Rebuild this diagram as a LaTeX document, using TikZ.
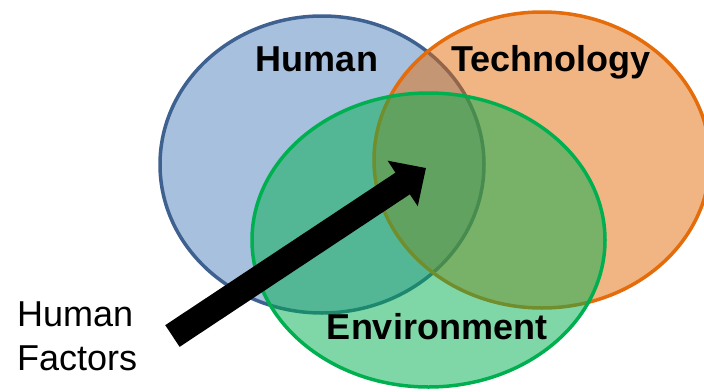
\documentclass[tikz,border=0pt]{standalone}
\usepackage{fontspec}
\setmainfont{Liberation Sans}
\usetikzlibrary{shapes.geometric,arrows.meta}

\definecolor{humanfill}{HTML}{4F81BD}
\definecolor{humanline}{HTML}{3E6190}
\definecolor{techorange}{HTML}{E46C0A}
\definecolor{envgreen}{HTML}{00B050}

\tikzset{
    venn/.style={ellipse, inner sep=0pt, line width=3.5pt, fill opacity=0.5},
    setname/.style={font=\fontsize{36}{44}\selectfont\bfseries, anchor=base, inner sep=0pt},
    bigarrow/.style={line width=26pt, -{Triangle[length=28pt, width=53pt]}}
}

\begin{document}
\begin{tikzpicture}[x=1pt, y=-1pt]

    \useasboundingbox (0,0) rectangle (704,391);

    % the three sets
    \node[venn, draw=humanline, fill=humanfill, minimum width=324, minimum height=297] (human) at (322,164.5) {};
    \node[venn, draw=techorange, fill=techorange, minimum width=336, minimum height=296] (tech) at (542,160) {};
    \node[venn, draw=envgreen, fill=envgreen, minimum width=353, minimum height=294] (env) at (428.5,240) {};

    \node[setname] (humanname) at (317,71) {Human};
    \node[setname] (techname) at (551,71) {Technology};
    \node[setname] (envname) at (437,339) {Environment};

    % label and arrow into the middle
    \node[font=\fontsize{36}{44}\selectfont, align=left, anchor=west, inner sep=0pt] (hf) at (17,336) {Human\\Factors};
    \coordinate (tail) at ([xshift=35pt]hf.east);
    \coordinate (core) at (426,168);
    \draw[bigarrow] (tail) -- (core);

\end{tikzpicture}
\end{document}
